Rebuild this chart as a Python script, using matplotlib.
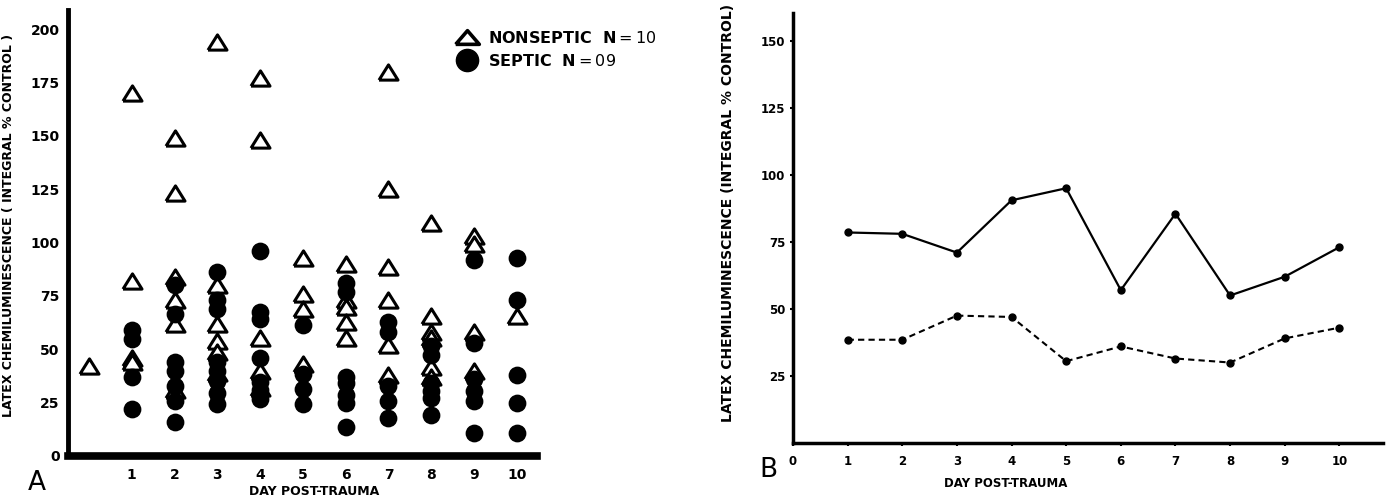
import matplotlib
matplotlib.use("Agg")
import matplotlib.pyplot as plt
from matplotlib.lines import Line2D
import numpy as np

plt.rcParams['font.family'] = ['DejaVu Sans']

# ---------------- Panel A data (individual patients) ----------------
nonseptic_days = [0,
                  1, 1, 1, 1,
                  2, 2, 2, 2, 2, 2,
                  3, 3, 3, 3, 3, 3,
                  4, 4, 4, 4, 4,
                  5, 5, 5, 5,
                  6, 6, 6, 6, 6,
                  7, 7, 7, 7, 7, 7,
                  8, 8, 8, 8, 8, 8,
                  9, 9, 9, 9,
                  10]
nonseptic_values = [42,
                    170, 82, 46, 44,
                    149, 123, 84, 73, 62, 31,
                    194, 80, 62, 54, 48.5, 39,
                    177, 148, 55.5, 40, 32,
                    93, 76, 69, 43,
                    90, 73, 70, 63, 55.5,
                    180, 125, 88.5, 73, 52, 38,
                    109, 65.5, 58, 55.5, 41.5, 37,
                    103, 99.5, 58, 40,
                    65.5]

septic_days = [1, 1, 1, 1,
               2, 2, 2, 2, 2, 2, 2,
               3, 3, 3, 3, 3, 3, 3, 3,
               4, 4, 4, 4, 4, 4, 4,
               5, 5, 5, 5,
               6, 6, 6, 6, 6, 6, 6,
               7, 7, 7, 7, 7,
               8, 8, 8, 8, 8, 8,
               9, 9, 9, 9, 9, 9,
               10, 10, 10, 10, 10]
septic_values = [59, 55, 37, 22,
                 80, 66.5, 44, 40, 33, 26, 16,
                 86, 73, 69, 44, 40, 35, 29.5, 24.5,
                 96, 67.5, 64, 46, 34.5, 31, 26.5,
                 61.5, 38.5, 31.5, 24.5,
                 81, 77, 37, 34, 28.5, 25, 13.5,
                 63, 58, 33, 26, 18,
                 51.5, 47.5, 34, 30.5, 27, 19,
                 92, 53, 36, 30.5, 26, 11,
                 93, 73, 38, 25, 11]

# ---------------- Panel B data (group means) ----------------
days_b = [1, 2, 3, 4, 5, 6, 7, 8, 9, 10]
nonseptic_mean = [78.5, 78, 71, 90.5, 95, 57, 85.5, 55, 62, 73]
septic_mean = [38.5, 38.5, 47.5, 47, 30.5, 36, 31.5, 30, 39, 43]

yticks_a = [0, 25, 50, 75, 100, 125, 150, 175, 200]
xticks_a = [1, 2, 3, 4, 5, 6, 7, 8, 9, 10]
yticks_b = [25, 50, 75, 100, 125, 150]
xticks_b = [0, 1, 2, 3, 4, 5, 6, 7, 8, 9, 10]

ylabel_a = "LATEX CHEMILUMINESCENCE ( INTEGRAL % CONTROL )"
ylabel_b = "LATEX CHEMILUMINESCENCE (INTEGRAL % CONTROL)"
xlabel = "DAY POST-TRAUMA"

# slightly flattened triangle marker, like the drawn symbols
tri_data = [(-1, -0.8), (1, -0.8), (0, 0.8), (-1, -0.8)]
tri_legend = [(-1, -0.58), (1, -0.58), (0, 0.58), (-1, -0.58)]

fig = plt.figure(figsize=(13.9, 4.97), dpi=100)

# ---------------- Panel A ----------------
axA = fig.add_axes([0.0489, 0.0825, 0.3374, 0.8975])
axA.scatter(nonseptic_days, nonseptic_values, marker=tri_data, s=13.7**2,
            facecolors='white', edgecolors='black', linewidths=2.2, zorder=3)
axA.scatter(septic_days, septic_values, marker='o', s=12.8**2,
            facecolors='black', edgecolors='black', linewidths=0, zorder=4)
axA.set_xlim(-0.49, 10.47)
axA.set_ylim(0, 209)
for s in ['top', 'right']:
    axA.spines[s].set_visible(False)
axA.spines['left'].set_linewidth(3.5)
axA.spines['bottom'].set_linewidth(5.5)
axA.set_yticks(yticks_a)
axA.set_yticklabels([str(v) for v in yticks_a], fontsize=10, fontweight='bold')
axA.set_xticks(xticks_a)
axA.set_xticklabels([str(v) for v in xticks_a], fontsize=10, fontweight='bold')
axA.tick_params(axis='both', length=0)
axA.tick_params(axis='y', pad=6)
axA.tick_params(axis='x', pad=9)
axA.set_ylabel(ylabel_a, fontsize=9, fontweight='bold')
axA.yaxis.set_label_coords(-0.112, 0.518)
axA.set_xlabel(xlabel, fontsize=9, fontweight='bold')
axA.xaxis.set_label_coords(0.525, -0.064)

handles = [Line2D([], [], linestyle='none', marker=tri_legend, markersize=17,
                  markerfacecolor='white', markeredgecolor='black', markeredgewidth=2.6),
           Line2D([], [], linestyle='none', marker='o', markersize=16,
                  markerfacecolor='black', markeredgecolor='black')]
labels = [r"NONSEPTIC  N$\mathrm{=10}$", r"SEPTIC  N$\mathrm{=09}$"]
axA.legend(handles, labels, loc='upper left', bbox_to_anchor=(0.834, 0.956),
           frameon=False, borderpad=0, borderaxespad=0, handlelength=1.0,
           handletextpad=0.8, labelspacing=0.45,
           prop={'weight': 'bold', 'size': 11.5})

fig.text(0.0266, 0.028, "A", fontsize=19, ha='center', va='center')

# ---------------- Panel B ----------------
axB = fig.add_axes([0.5705, 0.1087, 0.4245, 0.8654])
axB.plot(days_b, nonseptic_mean, color='black', linewidth=1.6, linestyle='-',
         marker='o', markersize=5)
axB.plot(days_b, septic_mean, color='black', linewidth=1.5, linestyle=(0, (3, 2)),
         marker='o', markersize=5)
axB.set_xlim(0, 10.8)
axB.set_ylim(0, 160.4)
for s in ['top', 'right']:
    axB.spines[s].set_visible(False)
axB.spines['left'].set_linewidth(2.5)
axB.spines['bottom'].set_linewidth(2.5)
axB.set_yticks(yticks_b)
axB.set_yticklabels([str(v) for v in yticks_b], fontsize=8.5, fontweight='bold')
axB.set_xticks(xticks_b)
axB.set_xticklabels([str(v) for v in xticks_b], fontsize=8.5, fontweight='bold')
axB.tick_params(axis='both', length=2.5, width=1.5, direction='out')
axB.tick_params(axis='y', pad=3)
axB.tick_params(axis='x', pad=6)
axB.set_ylabel(ylabel_b, fontsize=10, fontweight='bold')
axB.yaxis.set_label_coords(-0.098, 0.535)
axB.set_xlabel(xlabel, fontsize=8.5, fontweight='bold')
axB.xaxis.set_label_coords(0.36, -0.08)

fig.text(0.5525, 0.054, "B", fontsize=19, ha='center', va='center')

fig.savefig("out.png", dpi=100)
